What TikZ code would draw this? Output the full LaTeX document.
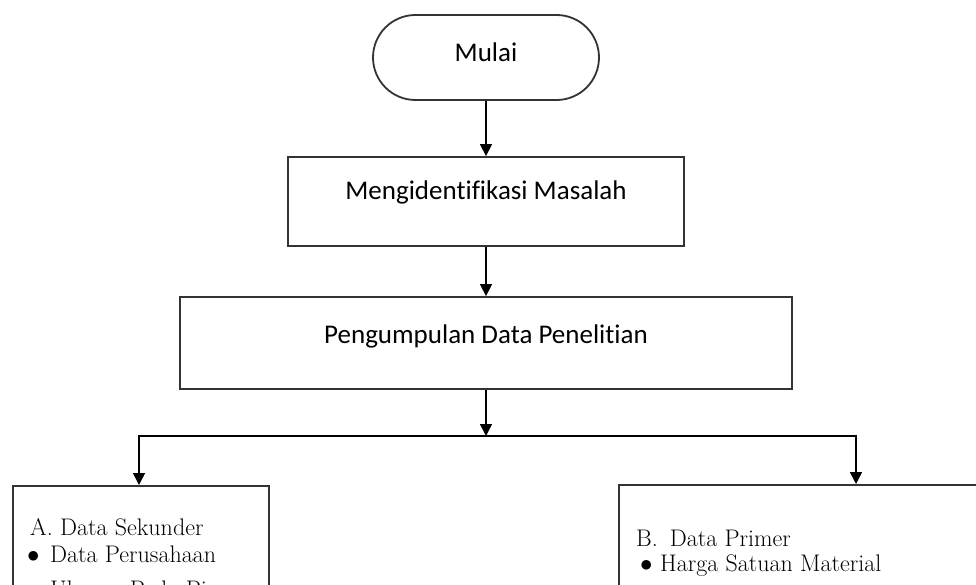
\documentclass[tikz,border=0pt]{standalone}
\usepackage{fontspec}
\newfontfamily\boxfont[Ligatures=NoCommon]{Carlito}
\usetikzlibrary{arrows.meta}
\begin{document}
\begin{tikzpicture}[x=1pt,y=-1pt,
  boxline/.style={draw=black!80, line width=1.8pt},
  flow/.style={draw=black, line width=1.5pt, line join=miter, -{Triangle[width=12pt,length=12pt]}},
  proc/.style={boxline, rectangle, inner sep=0pt, font=\boxfont\fontsize{27}{31}\selectfont, text height=17pt, text depth=0pt},
  term/.style={proc, rounded corners=42.5pt},
  listbox/.style={boxline, rectangle, inner sep=0pt, anchor=north west},
  item/.style={inner sep=0pt, anchor=base west, font=\fontsize{24}{28}\selectfont}
]
\clip (0,0) rectangle (976,585);
\fill[white] (0,0) rectangle (976,585);

\node[term, minimum width=226pt, minimum height=85pt] (mulai) at (486,57.5) {\raisebox{4.5pt}{Mulai}};
\node[proc, minimum width=396pt, minimum height=89pt] (ident) at (486,201.5) {\raisebox{10pt}{Mengidentifikasi Masalah}};
\node[proc, minimum width=612pt, minimum height=92pt] (data) at (486,343) {\raisebox{8pt}{Pengumpulan Data Penelitian}};

\node[listbox, minimum width=256pt, minimum height=200pt] (sek) at (12,485) {};
\node[listbox, minimum width=400pt, minimum height=200pt] (prim) at (618,484) {};

\coordinate (split) at (486,436);
\coordinate (ltop) at (139,485);
\coordinate (rtop) at (856,484);

\draw[flow] (mulai.south) -- (mulai.south |- ident.north);
\draw[flow] (ident.south) -- (ident.south |- data.north);
\draw[flow] (data.south) -- (split);
\draw[flow] (split) -| (ltop);
\draw[flow] (split) -| (rtop);

\node[item] (a1) at (30,535) {A. Data Sekunder};
\node[item] (a2b) at (27,562) {$\bullet$};
\node[item] (a2) at (50,562) {Data Perusahaan};
\node[item] (a3b) at (27,597) {$\bullet$};
\node[item] (a3) at (50,597) {Ukuran Pada Pi};

\node[item] (b1) at (636,546) {B.\hspace{12pt}Data Primer};
\node[item] (b2b) at (640,571) {$\bullet$};
\node[item] (b2) at (660,571) {Harga Satuan Material};
\end{tikzpicture}
\end{document}
